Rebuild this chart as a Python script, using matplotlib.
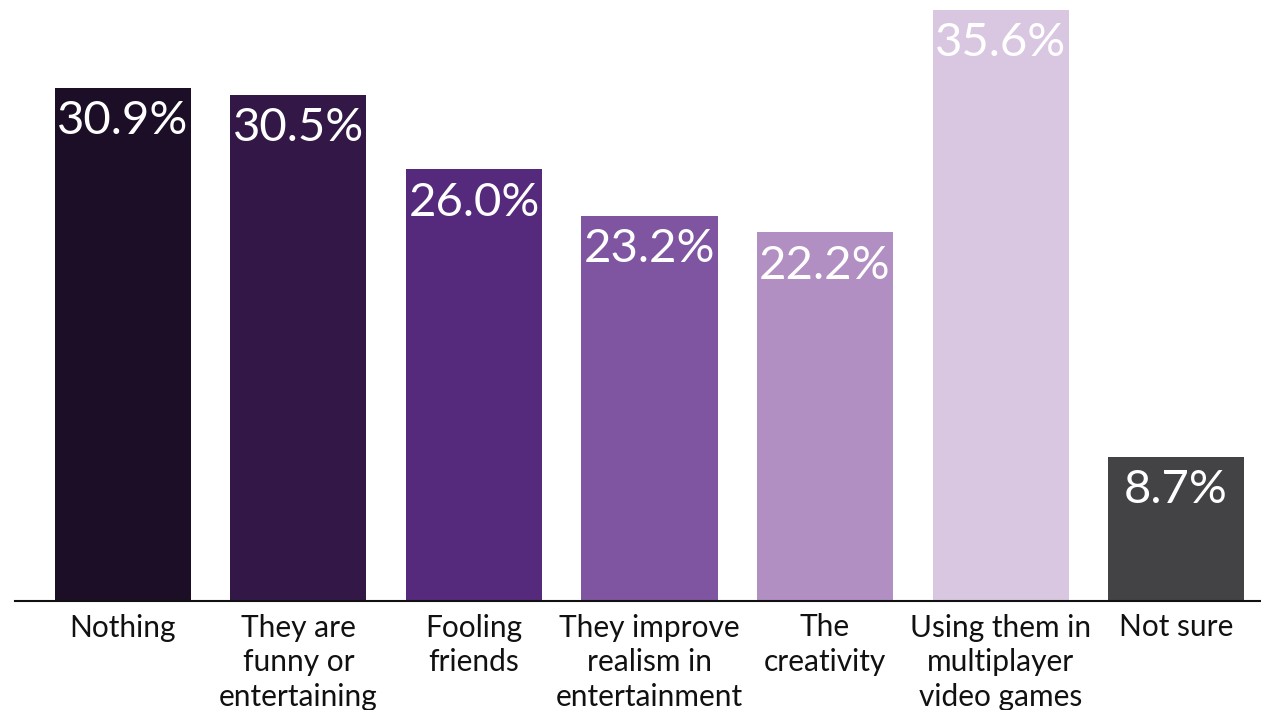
import matplotlib.pyplot as plt
import numpy as np

# survey answers and share of respondents (%)
categories = ["Nothing", "They are\nfunny or\nentertaining", "Fooling\nfriends",
              "They improve\nrealism in\nentertainment", "The\ncreativity",
              "Using them in\nmultiplayer\nvideo games", "Not sure"]
values = [30.9, 30.5, 26.0, 23.2, 22.2, 35.6, 8.7]
colors = ["#1c0e26", "#331847", "#552a7c", "#7f55a2", "#b28fc2", "#d9c7e2", "#434244"]

plt.rcParams['font.family'] = ['Lato', 'DejaVu Sans']

fig = plt.figure(figsize=(12.61, 7.10), dpi=100)
ax = fig.add_axes([15 / 1261, 109 / 710, 1246 / 1261, 601 / 710])

x = np.arange(len(values))
bars = ax.bar(x, values, width=0.775, color=colors)

for b, v in zip(bars, values):
    ax.annotate(f"{v:.1f}%", (b.get_x() + b.get_width() / 2, v),
                xytext=(0, -9), textcoords="offset points",
                ha="center", va="top", color="white", fontsize=34)

ax.set_xlim(-0.615, 6.484)
ax.set_ylim(0, 36.2)
ax.set_xticks(x)
ax.set_xticklabels(categories, fontsize=21.5, color="#111111", linespacing=1.3)
ax.tick_params(axis="x", length=0, pad=9)
ax.set_yticks([])
for s in ["top", "right", "left"]:
    ax.spines[s].set_visible(False)
ax.spines["bottom"].set_linewidth(1.5)
ax.spines["bottom"].set_color("#111111")

fig.savefig("out.png", dpi=100)
